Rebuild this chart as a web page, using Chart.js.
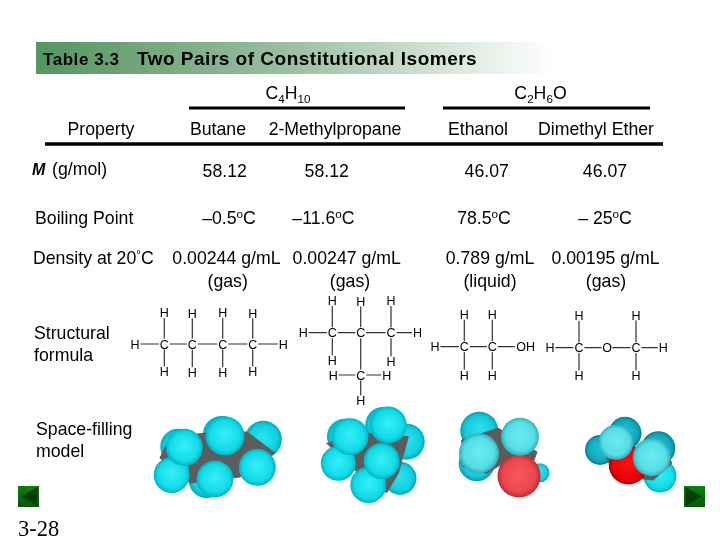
<!DOCTYPE html>
<html>
<head>
<meta charset="utf-8">
<style>
html, body { margin: 0; padding: 0; background: #fff; }
canvas { display: block; }
</style>
<script src="https://cdn.jsdelivr.net/npm/chart.js@4"></script>
</head>
<body>
<canvas id="myChart" width="720" height="540"></canvas>
<script>
// table text
const tableNumber = 'Table 3.3'
const tableTitle = 'Two Pairs of Constitutional Isomers'
const formulas = ['C{4}H{10}', 'C{2}H{6}O']
const compounds = ['Butane', '2-Methylpropane', 'Ethanol', 'Dimethyl Ether']
const molarMass = ['58.12', '58.12', '46.07', '46.07']
const boilingPoints = ['–0.5[o]C', '–11.6[o]C', '78.5[o]C', '– 25[o]C']
const densities = ['0.00244 g/mL', '0.00247 g/mL', '0.789 g/mL', '0.00195 g/mL']
const phases = ['(gas)', '(gas)', '(liquid)', '(gas)']

// structural formulas: label, x, y
const butaneAtoms = [['C',164.3,344],['C',192.3,344],['C',222.7,344],['C',252.7,344],['H',135,344],['H',283.3,344],
  ['H',164.3,312.7],['H',192.3,313],['H',222.7,312.7],['H',252.7,313],['H',164.3,371.7],['H',192.3,372.5],['H',222.7,372.5],['H',252.7,371.7]]
const butaneBonds = [[4,0],[0,1],[1,2],[2,3],[3,5],[0,6],[1,7],[2,8],[3,9],[0,10],[1,11],[2,12],[3,13]]
const methylAtoms = [['C',332.3,332.7],['C',360.7,332.7],['C',391,332.7],['C',360.7,375],['H',303.3,332.7],['H',417.5,332.7],
  ['H',332.3,300.7],['H',360.7,301],['H',391,300.7],['H',332.3,360.7],['H',391,361.7],['H',333.3,375],['H',386.7,375],['H',360.7,400.7]]
const methylBonds = [[4,0],[0,1],[1,2],[2,5],[0,6],[1,7],[2,8],[0,9],[2,10],[1,3],[11,3],[3,12],[3,13]]
const ethanolAtoms = [['C',464.3,346.7],['C',492.3,346.7],['OH',525.7,346.7],['H',435,346.7],
  ['H',464.3,314.3],['H',492.3,314.3],['H',464.3,375],['H',492.3,375]]
const ethanolBonds = [[3,0],[0,1],[1,2],[0,4],[1,5],[0,6],[1,7]]
const etherAtoms = [['C',579,347.7],['O',607,347.7],['C',636,347.7],['H',550,347.7],['H',663.3,347.7],
  ['H',579,315.7],['H',636,315],['H',579,375.7],['H',636,375.7]]
const etherBonds = [[3,0],[0,1],[1,2],[2,4],[0,5],[2,6],[0,7],[2,8]]

// space filling models: x, y, radius
const butaneBack = [[178.3,446.7,18],[221.7,435,19],[263.3,439.3,18.5],[206.7,480,18]]
const butaneCarbon = [[160,458],[190,483],[240,477],[275,453],[247,432],[207,433],[170,437]]
const butaneFront = [[171.7,475,18],[184.3,447.3,18.5],[225,436,19.5],[257.3,467.3,18.5],[215,479,18.5]]
const methylBack = [[345,436.7,18],[383.3,425,18],[406.7,441.7,18],[400,478.3,16.5]]
const methylCarbon = [[326.7,443.3],[356.7,471.7],[386.7,492.7],[398.3,473.3],[408.3,436.7],[366.7,433.3]]
const methylFront = [[338.3,463.3,17.5],[368.3,485,18],[350,436.7,18.5],[388.3,425,18.5],[381.7,461,18]]
const ethanolBack = [[479.3,430.7,19],[476.7,463.3,18],[540,472.7,9.5]]
const ethanolCarbon = [[461.7,440],[498.3,428.3],[537,452],[534,460],[503.3,463.3],[486.7,473.3],[463.3,466.7]]
const ethanolOxygen = [[519,476,21.5]]
const ethanolFront = [[479,453.3,20],[520,436.7,19]]
const etherBackDark = [[625,433.3,16.5],[600,450,15],[658.3,448.3,17]]
const etherBackBright = [[660,476,16.5]]
const etherCarbon = [[598.3,440],[610,465],[636.7,478.3],[653.3,480],[671.7,463.3],[666.7,450],[626.7,446.7]]
const etherOxygen = [[628.3,465,19.5]]
const etherFront = [[616,442.3,17.5],[651.7,457.3,19]]

const CYAN = ['#35eef6', '#12dce8', '#00b4c6']
const CYAN_BACK = ['#28e4ee', '#10d0e0', '#00a8ba']
const CYAN_LIGHT = ['#6cebf2', '#55dde6', '#30b0bc']
const TEAL = ['#1ec4d6', '#10a8bc', '#067f90']
const RED_LIGHT = ['#f8555e', '#ee4650', '#c02a34']
const RED = ['#ff1010', '#ee0008', '#b00006']

const ARIAL = '"Liberation Sans", Arial, sans-serif'
const BODY_SIZE = 17.7
const labels = []
const datasets = []

function addLabel(text, x, y, size, align, weight, family, spacing) {
  labels.push({text, x, y, size, align: align || 'left', weight: weight || 'normal', family: family || ARIAL, spacing: spacing || 0})
}

function addLine(points, color, width) {
  datasets.push({type: 'scatter', showLine: true, data: points.map(p => ({x: p[0], y: p[1]})), borderColor: color,
    borderWidth: width, pointRadius: 0, tension: 0, spanGaps: false, fill: false})
}

function addSpheres(list, colors) {
  datasets.push({type: 'scatter', data: list.map(s => ({x: s[0], y: s[1], r: s[2]})), pointBorderWidth: 0,
    pointRadius: c => c.raw ? c.raw.r : 0,
    pointBackgroundColor: c => {
      if (!c.raw) return colors[1]
      const px = c.chart.scales.x.getPixelForValue(c.raw.x), py = c.chart.scales.y.getPixelForValue(c.raw.y)
      if (!isFinite(px) || !isFinite(py)) return colors[1]
      const g = c.chart.ctx.createRadialGradient(px, py - 2, 1, px, py, c.raw.r)
      g.addColorStop(0, colors[0]); g.addColorStop(0.75, colors[1]); g.addColorStop(1, colors[2])
      return g
    }})
}

function addCarbon(list) {
  const pts = list.concat([list[0]]).map(p => ({x: p[0], y: p[1]}))
  datasets.push({type: 'scatter', showLine: true, data: pts, borderColor: '#5c5c5c', borderWidth: 1, pointRadius: 0,
    tension: 0, fill: 'shape', backgroundColor: '#5c5c5c'})
}

function addStructure(atoms, bonds) {
  const pts = []
  bonds.forEach(b => { pts.push(atoms[b[0]], atoms[b[1]], [null, null]) })
  datasets.push({type: 'scatter', showLine: true, data: pts.map(p => p[1] === null ? {x: NaN, y: NaN} : {x: p[1], y: p[2]}),
    borderColor: '#333', borderWidth: 1.2, pointRadius: 0, tension: 0, spanGaps: false, fill: false})
  datasets.push({type: 'scatter', data: atoms.map(a => ({x: a[1], y: a[2]})), pointRadius: atoms.map(a => a[0] === 'OH' ? 11 : 5.5),
    pointBackgroundColor: '#fff', pointBorderWidth: 0})
  atoms.forEach(a => addLabel(a[0], a[1], a[2], 12.5, 'center'))
}

// header band, fades to white
datasets.push({type: 'scatter', showLine: true, data: [{x: 36, y: 58}, {x: 552, y: 58}], borderWidth: 32, pointRadius: 0, fill: false,
  borderColor: c => {
    const g = c.chart.ctx.createLinearGradient(36, 0, 552, 0)
    g.addColorStop(0, '#559560'); g.addColorStop(0.5, '#9cc0a2'); g.addColorStop(1, '#ffffff')
    return g
  }})

addLine([[189,108],[405,108]], '#000', 3)
addLine([[443,108],[650,108]], '#000', 3)
addLine([[45,144],[663,144]], '#000', 3.5)

addStructure(butaneAtoms, butaneBonds)
addStructure(methylAtoms, methylBonds)
addStructure(ethanolAtoms, ethanolBonds)
addStructure(etherAtoms, etherBonds)

addSpheres(butaneBack, CYAN_BACK); addCarbon(butaneCarbon); addSpheres(butaneFront, CYAN)
addSpheres(methylBack, CYAN_BACK); addCarbon(methylCarbon); addSpheres(methylFront, CYAN)
addSpheres(ethanolBack, ['#2ee0ea', '#14cadc', '#0a9cb0']); addCarbon(ethanolCarbon); addSpheres(ethanolOxygen, RED_LIGHT); addSpheres(ethanolFront, CYAN_LIGHT)
addSpheres(etherBackDark, TEAL); addSpheres(etherBackBright, CYAN); addCarbon(etherCarbon); addSpheres(etherOxygen, RED); addSpheres(etherFront, CYAN_LIGHT)

// previous / next buttons
datasets.push({type: 'scatter', data: [{x: 28.5, y: 496.5}, {x: 694.5, y: 496.5}], pointStyle: 'rect', pointRadius: 14.85, pointBorderWidth: 0,
  pointBackgroundColor: c => {
    const g = c.chart.ctx.createLinearGradient(0, 486, 0, 507)
    g.addColorStop(0, '#0c8010'); g.addColorStop(1, '#07570a')
    return g
  }})
datasets.push({type: 'scatter', data: [{x: 32, y: 496.5}, {x: 691, y: 496.5}], pointStyle: 'triangle', pointRadius: 11, pointBorderWidth: 0,
  pointRotation: [-90, 90], pointBackgroundColor: '#054006'})

datasets.forEach((d, i) => { d.order = -i })

// text
addLabel(tableNumber, 43, 59, 17, 'left', 'bold', ARIAL, 0.55)
addLabel(tableTitle, 137, 58, 19, 'left', 'bold', ARIAL, 0.5)
const groupX = [288, 540.5]
formulas.forEach((t, i) => addLabel(t, groupX[i], 93, BODY_SIZE, 'center'))
addLabel('Property', 101, 129, BODY_SIZE, 'center')
const nameX = [218, 335, 478, 596], massX = [224.7, 326.7, 486.7, 605], boilX = [229, 323.4, 484, 605], densX = [226.4, 346.7, 490, 605.5], phaseX = [227.7, 350, 490, 606]
compounds.forEach((t, i) => addLabel(t, nameX[i], 129, BODY_SIZE, 'center'))
molarMass.forEach((t, i) => addLabel(t, massX[i], 171, BODY_SIZE, 'center'))
boilingPoints.forEach((t, i) => addLabel(t, boilX[i], 218, BODY_SIZE, 'center'))
densities.forEach((t, i) => addLabel(t, densX[i], 258, BODY_SIZE, 'center'))
phases.forEach((t, i) => addLabel(t, phaseX[i], 280.5, BODY_SIZE, 'center'))
addLabel('M', 32, 169, 16, 'left', 'italic bold')
addLabel('(g/mol)', 52, 168.5, BODY_SIZE)
addLabel('Boiling Point', 35, 218, BODY_SIZE)
addLabel('Density at 20[°]C', 33, 258, BODY_SIZE)
addLabel('Structural', 34, 333, BODY_SIZE)
addLabel('formula', 34, 355, BODY_SIZE)
addLabel('Space-filling', 36, 429, BODY_SIZE)
addLabel('model', 36, 451, BODY_SIZE)
addLabel('3-28', 18, 528, 22.5, 'left', 'normal', '"Liberation Serif", "Times New Roman", serif')

// splits "C{4}H[o]" into normal, subscript and superscript runs
function splitRuns(text) {
  const runs = []
  const re = /\{([^}]*)\}|\[([^\]]*)\]|([^{\[]+)/g
  let m
  while ((m = re.exec(text))) {
    if (m[1] !== undefined) runs.push({t: m[1], shift: 1})
    else if (m[2] !== undefined) runs.push({t: m[2], shift: -1})
    else runs.push({t: m[3], shift: 0})
  }
  return runs
}

const tableText = {
  id: 'tableText',
  afterDatasetsDraw(chart) {
    const c = chart.ctx, sx = chart.scales.x, sy = chart.scales.y
    c.save()
    c.textBaseline = 'alphabetic'
    c.textAlign = 'left'
    labels.forEach(l => {
      const runs = splitRuns(l.text)
      const fontFor = r => l.weight + ' ' + (r.shift ? l.size * 0.66 : l.size) + 'px ' + l.family
      c.letterSpacing = l.spacing + 'px'
      let w = 0
      runs.forEach(r => { c.font = fontFor(r); w += c.measureText(r.t).width })
      let x = sx.getPixelForValue(l.x)
      if (l.align === 'center') x -= w / 2
      const base = sy.getPixelForValue(l.y) + l.size * 0.36
      c.fillStyle = '#000'
      runs.forEach(r => {
        c.font = fontFor(r)
        c.fillText(r.t, x, base + r.shift * (r.shift > 0 ? l.size * 0.22 : l.size * 0.36))
        x += c.measureText(r.t).width
      })
    })
    c.restore()
  }
}

new Chart(document.getElementById('myChart').getContext('2d'), {
  type: 'scatter',
  data: {datasets},
  plugins: [tableText],
  options: {
    responsive: false,
    animation: false,
    events: [],
    layout: {padding: 0, autoPadding: false},
    plugins: {legend: {display: false}, tooltip: {enabled: false}, title: {display: false}},
    scales: {
      x: {type: 'linear', min: 0, max: 720, display: false},
      y: {type: 'linear', min: 0, max: 540, reverse: true, display: false}
    }
  }
})
</script>
</body>
</html>
